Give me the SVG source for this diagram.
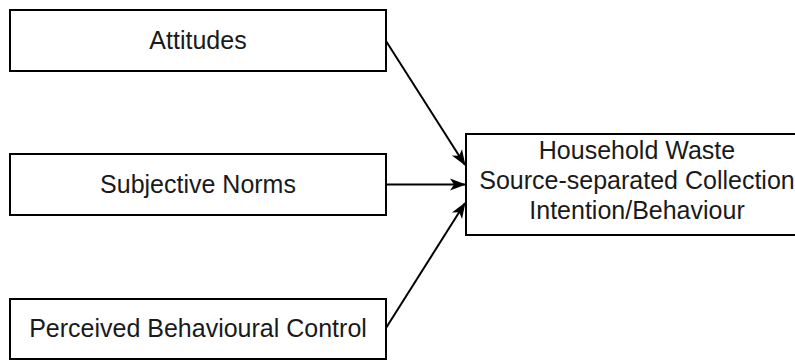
<svg xmlns="http://www.w3.org/2000/svg" width="795" height="360" viewBox="0 0 795 360">
<defs>
<style>
.box{fill:#fff;stroke:#000;stroke-width:2}
.lbl{font-family:"Liberation Sans",Arial,sans-serif;font-size:25px;fill:#1a1a1a;text-anchor:middle}
.edge{stroke:#000;stroke-width:2;fill:none;marker-end:url(#arr)}
</style>
<marker id="arr" viewBox="0 0 16 12" refX="15" refY="6" markerWidth="16" markerHeight="12" markerUnits="userSpaceOnUse" orient="auto" overflow="visible">
<path d="M0,0 L16,6 L0,12 L4,6 Z" fill="#000"/>
</marker>
</defs>
<rect width="795" height="360" fill="#fff"/>
<g id="connectors">
<line class="edge" x1="386" y1="41" x2="465" y2="165"/>
<line class="edge" x1="386" y1="184.5" x2="465" y2="184.5"/>
<line class="edge" x1="386" y1="328" x2="465" y2="203"/>
</g>
<g id="attitudes">
<rect class="box" x="10" y="10" width="376" height="61"/>
<text class="lbl" x="198" y="49">Attitudes</text>
</g>
<g id="subjective-norms">
<rect class="box" x="10" y="154" width="376" height="61"/>
<text class="lbl" x="198" y="193">Subjective Norms</text>
</g>
<g id="perceived-control">
<rect class="box" x="10" y="299" width="376" height="60"/>
<text class="lbl" x="198" y="337">Perceived Behavioural Control</text>
</g>
<g id="intention">
<rect class="box" x="466" y="134" width="342" height="101"/>
<text class="lbl" x="637" y="158.5">Household Waste</text>
<text class="lbl" x="637" y="189">Source-separated Collection</text>
<text class="lbl" x="637" y="219">Intention/Behaviour</text>
</g>
</svg>
